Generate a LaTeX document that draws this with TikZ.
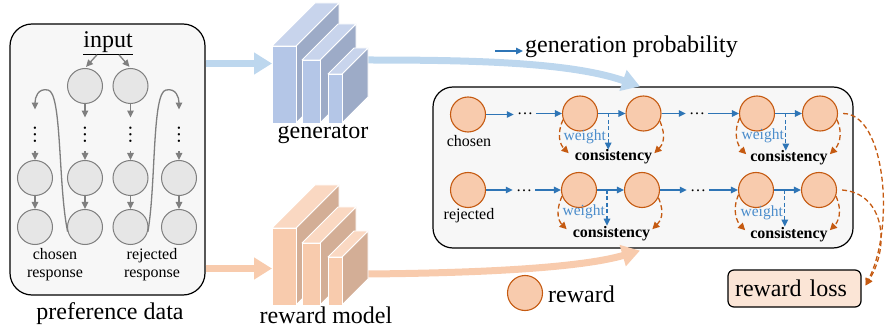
\documentclass[tikz,border=0pt]{standalone}
\usepackage{fontspec}
\setmainfont{Liberation Serif}
\usetikzlibrary{arrows.meta,calc}
\definecolor{gfill}{HTML}{E6E6E6}
\definecolor{gline}{HTML}{7F7F7F}
\definecolor{ofill}{HTML}{F8CBAD}
\definecolor{oline}{HTML}{C55A11}
\definecolor{bline}{HTML}{2E75B6}
\definecolor{wtext}{HTML}{4A8CCB}
\definecolor{bthick}{HTML}{BDD7EE}
\definecolor{othick}{HTML}{F8CBAD}
\definecolor{boxfill}{HTML}{F7F7F7}
\definecolor{lossfill}{HTML}{FBE5D6}
\definecolor{gfront}{HTML}{B4C6E7}
\definecolor{gtop}{HTML}{C8D4EC}
\definecolor{gside}{HTML}{9DABC7}
\definecolor{rfront}{HTML}{F8CBAD}
\definecolor{rtop}{HTML}{FAD8C2}
\definecolor{rside}{HTML}{D3AE96}
\newcommand{\myslab}[8]{%
  \fill[#6,draw=white,line width=0.8pt,line join=round] (#2,#3) -- ({#2+#5},{#3-#5}) -- ({#2+#5},{#4-#5}) -- (#2,#4) -- cycle;
  \fill[#7,draw=white,line width=0.8pt,line join=round] (#1,#3) -- ({#1+#5},{#3-#5}) -- ({#2+#5},{#3-#5}) -- (#2,#3) -- cycle;
  \fill[#8,draw=white,line width=0.8pt] (#1,#3) rectangle (#2,#4);
}
\begin{document}
\begin{tikzpicture}[x=1pt,y=-1pt,
  gcirc/.style={circle,draw=gline,fill=gfill,line width=1pt,minimum size=35pt,inner sep=0pt},
  ocirc/.style={circle,draw=oline,fill=ofill,line width=1.1pt,minimum size=35pt,inner sep=0pt},
  garrow/.style={draw=gline,line width=1.3pt,-{Triangle[length=7pt,width=6.5pt]}},
  barrow/.style={draw=bline,line width=1.3pt,-{Triangle[length=7pt,width=6.5pt]}},
  bdash/.style={barrow,dash pattern=on 4pt off 2.5pt},
  odash/.style={draw=oline,line width=1.3pt,dash pattern=on 5pt off 3pt,-{Triangle[length=7pt,width=7pt]}},
  thickb/.style={draw=bthick,line width=7pt,-{Triangle[length=18pt,width=21pt]}},
  thicko/.style={draw=othick,line width=7pt,-{Triangle[length=18pt,width=21pt]}},
  lbig/.style={font=\fontsize{24}{28}\selectfont,inner sep=0pt},
  lsmall/.style={font=\fontsize{16}{18}\selectfont,inner sep=0pt},
  lcons/.style={font=\fontsize{16}{18}\selectfont\bfseries,inner sep=0pt},
  lweight/.style={font=\fontsize{15.5}{18}\selectfont,text=wtext,inner sep=0pt},
  dotsn/.style={font=\fontsize{16}{18}\selectfont,inner xsep=3pt,inner ysep=0pt},
  vdn/.style={font=\fontsize{19.5}{20}\selectfont,rotate=90,inner xsep=7pt,inner ysep=0pt},
  panel/.style={draw=black,fill=boxfill,line width=1.2pt,inner sep=0pt},
  lossbox/.style={draw=black,fill=lossfill,line width=1.2pt,rounded corners=6pt,minimum width=133pt,minimum height=37pt,text width=119pt,inner xsep=7pt,align=left,font=\fontsize{24}{28}\selectfont}
]
\useasboundingbox (0,0) rectangle (886,331);

% panels
\node[panel,rounded corners=22pt,minimum width=195pt,minimum height=271pt] (pref) at (107.5,159.5) {};
\node[panel,rounded corners=20pt,minimum width=420pt,minimum height=161pt] (rbox) at (643,167.5) {};

% coordinates for the models
\coordinate (gin) at (272,63.5);
\coordinate (gout) at (368,60);
\coordinate (rin) at (272,268.5);
\coordinate (rout) at (368,274);

% thick arrows
\draw[thickb] (pref.east |- gin) -- (gin);
\draw[thicko] (pref.east |- rin) -- (rin);
\draw[thickb] (gout) .. controls (470,60) and (570,62) .. ([xshift=-3pt]rbox.north);
\draw[thicko] (rout) .. controls (480,273) and (580,268) .. ([xshift=-3pt,yshift=-2pt]rbox.south);

% generator
\myslab{272}{296}{46}{123}{43}{gside}{gtop}{gfront}
\myslab{302}{320}{60}{123}{36}{gside}{gtop}{gfront}
\myslab{328}{342}{74}{123}{26}{gside}{gtop}{gfront}
% reward model
\myslab{272}{296}{228}{305}{43}{rside}{rtop}{rfront}
\myslab{302}{320}{243}{305}{36}{rside}{rtop}{rfront}
\myslab{328}{342}{257}{305}{26}{rside}{rtop}{rfront}
\node[lbig,anchor=base] (genl) at (323,138.5) {generator};
\node[lbig,anchor=base] (rml) at (326,323) {reward model};

% preference data
\node[lbig,anchor=base] (inp) at (108,47.5) {\underline{input}};
\node[gcirc] (t2) at (85,86) {};
\node[gcirc] (t3) at (130.5,86) {};
\node[vdn] (v1) at (35,134.5) {\dots};
\node[vdn] (v2) at (85,134.5) {\dots};
\node[vdn] (v3) at (130.5,134.5) {\dots};
\node[vdn] (v4) at (179,134.5) {\dots};
\node[gcirc] (m1) at (35,178) {};
\node[gcirc] (m2) at (85,178) {};
\node[gcirc] (m3) at (130.5,178) {};
\node[gcirc] (m4) at (179,178) {};
\node[gcirc] (b1) at (35,227) {};
\node[gcirc] (b2) at (85,227) {};
\node[gcirc] (b3) at (130.5,227) {};
\node[gcirc] (b4) at (179,227) {};
\draw[garrow,shorten >=1.5pt] ([xshift=-11pt]inp.south) -- (t2.north);
\draw[garrow,shorten >=1.5pt] ([xshift=11pt]inp.south) -- (t3.north);
\draw[garrow] (t2) -- (v2);
\draw[garrow] (t3) -- (v3);
\foreach \c in {1,2,3,4}{
  \draw[garrow] (v\c) -- (m\c);
  \draw[garrow] (m\c) -- (b\c);
}
\draw[garrow] (b2.195) .. controls (58,185) and (62,92) .. (48,90) .. controls (38,88) and (35,97) .. ([yshift=8pt]v1.east);
\draw[garrow] (b3.-15) .. controls (156,185) and (152,92) .. (166,90) .. controls (176,88) and (179,97) .. ([yshift=8pt]v4.east);
\node[lsmall,align=center] (chl) at (55,265) {chosen\\response};
\node[lsmall,align=center] (rjl) at (152,265) {rejected\\response};
\node[lbig,anchor=base] (pdl) at (110,319) {preference data};

% legend top
\node[lbig,anchor=base west] (gpl) at (525,53) {generation probability};
\coordinate (gp0) at (495,51);
\draw[barrow,shorten >=2pt] (gp0) -- (gp0 -| gpl.west);

% right box rows
\node[ocirc] (r1c1) at (468,114.5) {};
\node[ocirc] (r1c2) at (580,113.5) {};
\node[ocirc] (r1c3) at (643.5,113.5) {};
\node[ocirc] (r1c4) at (757,113.5) {};
\node[ocirc] (r1c5) at (820,113.5) {};
\node[ocirc] (r2c1) at (468,190) {};
\node[ocirc] (r2c2) at (579,190) {};
\node[ocirc] (r2c3) at (642,190) {};
\node[ocirc] (r2c4) at (756,190) {};
\node[ocirc] (r2c5) at (819,190) {};
\node[lsmall] (chs) at (469,141) {chosen};
\node[lsmall] (rjs) at (469,216) {rejected};
\node[dotsn,anchor=base] (d11) at (525,115) {\dots};
\node[dotsn,anchor=base] (d12) at (697,115) {\dots};
\node[dotsn,anchor=base] (d21) at (524,191.5) {\dots};
\node[dotsn,anchor=base] (d22) at (698,191.5) {\dots};
\foreach \r/\a/\b in {1/d11/d12,2/d21/d22}{
  \draw[barrow] (r\r c1.east) -- (r\r c1.east -| \a.west);
  \draw[barrow] (\a.east |- r\r c2.west) -- (r\r c2.west);
  \draw[barrow] (r\r c2) -- (r\r c3);
  \draw[barrow] (r\r c3.east) -- (r\r c3.east -| \b.west);
  \draw[barrow] (\b.east |- r\r c4.west) -- (r\r c4.west);
  \draw[barrow] (r\r c4) -- (r\r c5);
}
% consistency and weight
\node[lcons,anchor=base] (k11) at (613.5,161) {consistency};
\node[lcons,anchor=base] (k12) at (611.5,237) {consistency};
\node[lcons,anchor=base] (k21) at (789,162) {consistency};
\node[lcons,anchor=base] (k22) at (789,238) {consistency};
\node[lweight,anchor=base east] (wl11) at (606,141) {weight};
\node[lweight,anchor=base east] (wl12) at (605,215) {weight};
\node[lweight,anchor=base east] (wl21) at (784,140) {weight};
\node[lweight,anchor=base east] (wl22) at (783,217) {weight};
\coordinate (w11) at ($(r1c2.east)!0.37!(r1c3.west)$);
\coordinate (w12) at ($(r2c2.east)!0.37!(r2c3.west)$);
\coordinate (w21) at ($(r1c4.east)!0.4!(r1c5.west)$);
\coordinate (w22) at ($(r2c4.east)!0.4!(r2c5.west)$);
\draw[bdash] (w11) -- (w11 |- k11.north);
\draw[bdash] (w12) -- (w12 |- k12.north);
\draw[bdash] (w21) -- (w21 |- k21.north);
\draw[bdash] (w22) -- (w22 |- k22.north);
\draw[odash] (r1c2.200) .. controls +(-7,16) and +(-8,-8) .. ([xshift=-6pt,yshift=4pt]k11.west);
\draw[odash] (r1c3.-25) .. controls +(7,16) and +(8,-8) .. ([xshift=2pt,yshift=4pt]k11.east);
\draw[odash] (r2c2.200) .. controls +(-7,16) and +(-8,-8) .. ([xshift=-6pt,yshift=4pt]k12.west);
\draw[odash] (r2c3.-25) .. controls +(7,16) and +(8,-8) .. ([xshift=2pt,yshift=4pt]k12.east);
\draw[odash] (r1c4.195) .. controls +(-7,16) and +(-8,-8) .. ([xshift=-4pt,yshift=4pt]k21.west);
\draw[odash] (r1c5.-20) .. controls +(7,16) and +(8,-8) .. ([xshift=2pt,yshift=4pt]k21.east);
\draw[odash] (r2c4.195) .. controls +(-7,16) and +(-8,-8) .. ([xshift=-5pt,yshift=4pt]k22.west);
\draw[odash] (r2c5.-20) .. controls +(7,16) and +(8,-8) .. ([xshift=2pt,yshift=4pt]k22.east);

% reward loss
\node[lossbox] (loss) at (794.5,288.5) {reward loss};
\draw[odash] ([xshift=5pt]r1c5.east) .. controls +(42,0) and +(30,-60) .. ([xshift=4pt,yshift=3pt]loss.east);
\draw[odash] ([xshift=5pt]r2c5.east) .. controls +(42,3) and +(25,-40) .. ([xshift=4pt,yshift=3pt]loss.east);

% reward legend
\node[ocirc] (leg) at (525,293) {};
\node[lbig,anchor=base west] (legl) at (548,302) {reward};
\end{tikzpicture}
\end{document}
